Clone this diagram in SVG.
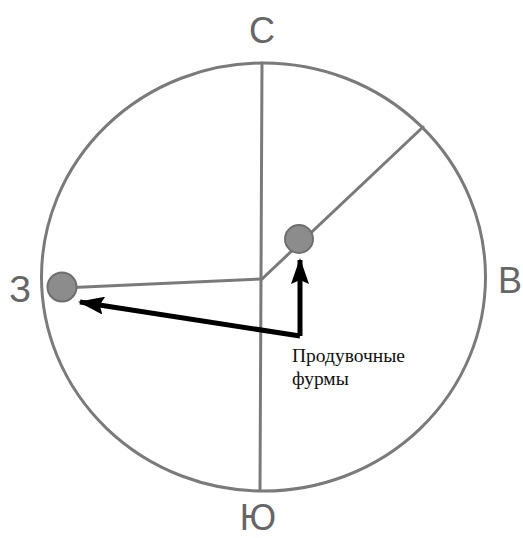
<svg xmlns="http://www.w3.org/2000/svg" width="523" height="538" viewBox="0 0 523 538">
<style>
.g{fill:none;stroke:#7a7a7a;stroke-width:3;stroke-linecap:round}
.dot{fill:#8c8c8c;stroke:#6e6e6e;stroke-width:2}
.lbl{font-family:"Liberation Sans",Arial,sans-serif;font-size:36px;fill:#666;text-anchor:middle}
.cap{font-family:"Liberation Serif","Times New Roman",serif;font-size:19.5px;fill:#111}
.arr{fill:none;stroke:#000;stroke-width:5;stroke-linejoin:miter}
</style>
<defs>
<marker id="ah" viewBox="0 0 26 18" refX="24" refY="9" markerWidth="26" markerHeight="18" markerUnits="userSpaceOnUse" orient="auto">
<path d="M0,0 L26,9 L0,18 L4,9 Z" fill="#000"/>
</marker>
</defs>
<rect width="523" height="538" fill="#fff"/>
<g id="circle">
<ellipse class="g" cx="263.5" cy="277" rx="222" ry="214"/>
<line class="g" x1="262" y1="63" x2="260" y2="490"/>
<line class="g" x1="62" y1="288" x2="262" y2="279"/>
<line class="g" x1="262" y1="279" x2="423" y2="127"/>
</g>
<g id="tuyere-west"><circle class="dot" cx="62" cy="287" r="14.5"/></g>
<g id="tuyere-center"><circle class="dot" cx="299" cy="239" r="14"/></g>
<g id="labels">
<text class="lbl" x="262" y="43">С</text>
<text class="lbl" x="20" y="302">З</text>
<text class="lbl" x="510" y="293">В</text>
<text class="lbl" x="258" y="530">Ю</text>
</g>
<g id="connectors">
<path class="arr" d="M300,336 L300,260" marker-end="url(#ah)"/>
<path class="arr" d="M300,336 L80,302" marker-end="url(#ah)"/>
</g>
<g id="caption">
<text class="cap" x="292" y="362">Продувочные</text>
<text class="cap" x="292" y="385">фурмы</text>
</g>
</svg>
